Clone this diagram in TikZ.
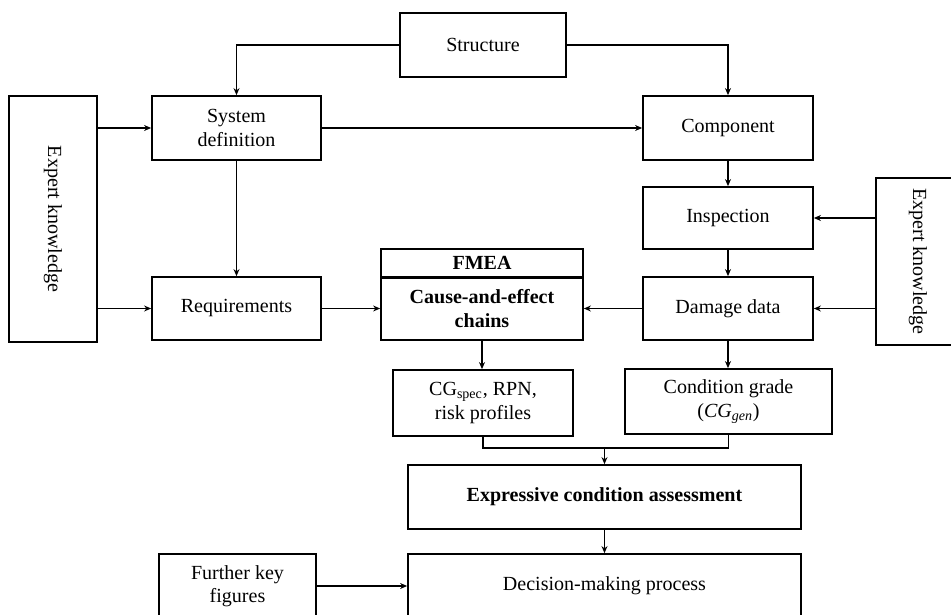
\documentclass[tikz,border=0pt]{standalone}
\usepackage{fontspec}
\setmainfont{Liberation Serif}
\usepackage{tikz}
\usetikzlibrary{arrows.meta}
\usetikzlibrary{positioning}

\begin{document}
\begin{tikzpicture}[
    x=0.02cm, y=-0.02cm,
    line width=1pt,
    >={Stealth[length=4pt,width=3.4pt]},
    every node/.style={font=\fontsize{11.4}{13.4}\selectfont},
    box/.style={draw, rectangle, align=center, inner sep=0pt, line width=1pt},
]
\useasboundingbox (0,0) rectangle (951,615);
\clip (0,0) rectangle (951,615);

\node[box, minimum width=3.32cm, minimum height=1.28cm] (struct) at (483,45) {Structure};
\node[box, minimum width=1.76cm, minimum height=4.92cm] (expL) at (53,219) {};
\node[rotate=-90] at (expL.center) {Expert knowledge};
\node[box, minimum width=1.68cm, minimum height=3.34cm] (expR) at (918,261.5) {};
\node[rotate=-90] at (expR.center) {Expert knowledge};

\node[box, minimum width=3.38cm, minimum height=1.28cm] (sysdef) at (236.5,128) {System\\definition};
\node[box, minimum width=3.38cm, minimum height=1.26cm] (req) at (236.5,308.5) {Requirements};
\node[box, minimum width=3.4cm, minimum height=1.28cm] (comp) at (728,128) {Component};
\node[box, minimum width=3.4cm, minimum height=1.24cm] (insp) at (728,218) {Inspection};
\node[box, minimum width=3.4cm, minimum height=1.26cm] (damage) at (728,308.5) {Damage data};

\node[box, minimum width=4.04cm, minimum height=0.56cm] (fmea) at (482,263) {\textbf{FMEA}};
\node[box, minimum width=4.04cm, minimum height=1.26cm] (cause) at (482,308.5) {\textbf{Cause-and-effect}\\\textbf{chains}};
\draw[line width=1.8pt] (fmea.south west) -- (fmea.south east);

\node[box, minimum width=3.6cm, minimum height=1.32cm] (cgspec) at (483,403) {CG\textsubscript{spec}, RPN,\\risk profiles};
\node[box, minimum width=4.14cm, minimum height=1.3cm] (cgrade) at (728.5,401.5) {Condition grade\\(\textit{CG}\textsubscript{\textit{gen}})};

\node[box, minimum width=7.86cm, minimum height=1.28cm] (assess) at (604.5,497) {\textbf{Expressive condition assessment}};
\node[box, minimum width=7.86cm, minimum height=1.28cm] (decide) at (604.5,586) {Decision-making process};
\node[box, minimum width=3.14cm, minimum height=1.28cm] (further) at (237.5,586) {Further key\\figures};
\coordinate (merge) at (604.5,448);

\draw[->] (struct.west) -| (sysdef.north);
\draw[->] (struct.east) -| (comp.north);
\draw[->] (expL.east |- sysdef.west) -- (sysdef.west);
\draw[->] (expL.east |- req.west) -- (req.west);
\draw[->] (sysdef.east) -- (comp.west);
\draw[->] (sysdef.south) -- (req.north);
\draw[->] (req.east) -- (cause.west);
\draw[->] (comp.south) -- (insp.north);
\draw[->] (insp.south) -- (damage.north);
\draw[->] (expR.west |- insp.east) -- (insp.east);
\draw[->] (expR.west |- damage.east) -- (damage.east);
\draw[->] (damage.west) -- (cause.east);
\draw[->] (cause.south) -- (cause.south |- cgspec.north);
\draw[->] (damage.south) -- (damage.south |- cgrade.north);
\draw (cgspec.south) |- (cgrade.south |- merge) -- (cgrade.south);
\draw[->] (merge) -- (assess.north);
\draw[->] (assess.south) -- (decide.north);
\draw[->] (further.east) -- (decide.west);
\end{tikzpicture}
\end{document}
